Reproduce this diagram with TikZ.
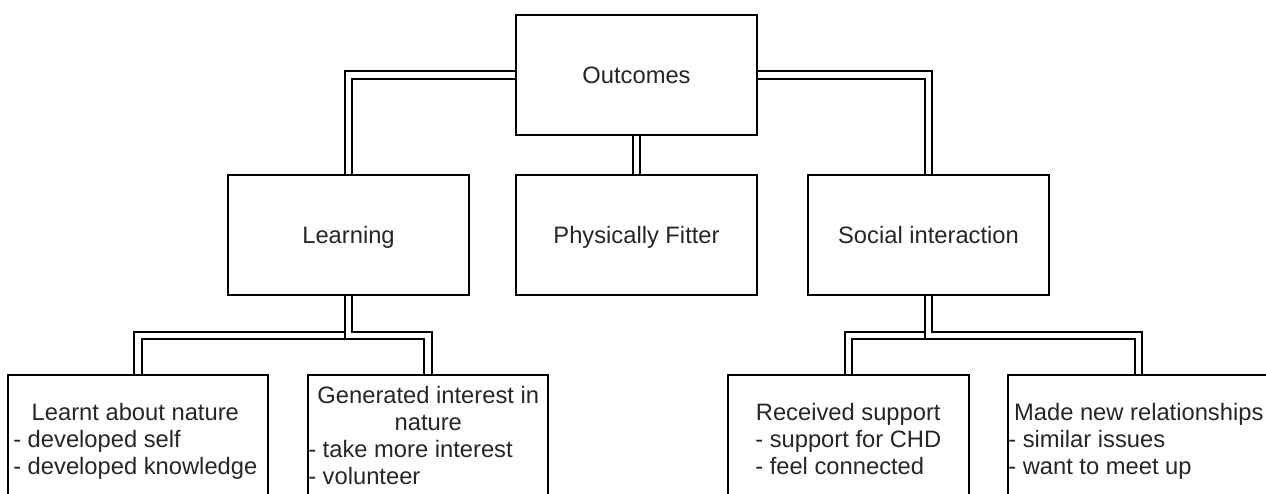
\documentclass[tikz,border=0pt]{standalone}
\usepackage{fontspec}
\setmainfont{Liberation Sans}
\pgfdeclarelayer{bg}
\pgfsetlayers{bg,main}
\begin{document}
\begin{tikzpicture}[x=0.75pt,y=-0.75pt,
  box/.style={draw=black,line width=1.2pt,fill=white,inner sep=0pt,
    minimum width=180.75pt,minimum height=90pt,
    font=\fontsize{17.8}{20.25}\selectfont,text=black!85,
    text height=12.7pt,text depth=0pt},
  dbl/.style={draw=black,line width=1.2pt,double=white,double distance=4.4pt},
  txt/.style={inner sep=0pt,font=\fontsize{17.8}{20.25}\selectfont,
    text=black!85,anchor=base west}]
\useasboundingbox (0,0) rectangle (1266,493);

% top and middle row
\node[box] (out) at (636.5,75) {Outcomes};
\node[box] (learn) at (348.5,235) {Learning};
\node[box] (phys) at (636.5,235) {Physically Fitter};
\node[box] (soc) at (928.5,235) {Social interaction};

% bottom row
\node[box,minimum width=195pt,minimum height=93.75pt] (b1) at (138,437.5) {};
\node[box,minimum width=180pt,minimum height=93.75pt] (b2) at (428,437.5) {};
\node[box,minimum width=180.75pt,minimum height=93.75pt] (b3) at (848.5,437.5) {};
\node[box,minimum width=195.75pt,minimum height=93.75pt] (b4) at (1138.5,437.5) {};

\node[txt] (t1) at (13,420) {\begin{tabular}[t]{@{}l@{}}\multicolumn{1}{@{}c@{}}{Learnt about nature}\\- developed self\\- developed knowledge\end{tabular}};
\node[txt] (t2) at (308,403) {\begin{tabular}[t]{@{}l@{}}\makebox[180pt]{Generated interest in}\\\makebox[180pt]{nature}\\- take more interest\\- volunteer\end{tabular}};
\node[txt] (t3) at (755,420) {\begin{tabular}[t]{@{}l@{}}\multicolumn{1}{@{}c@{}}{Received support}\\- support for CHD\\- feel connected\end{tabular}};
\node[txt] (t4) at (1008,420) {\begin{tabular}[t]{@{}l@{}}\makebox[195.75pt]{Made new relationships}\\- similar issues\\- want to meet up\end{tabular}};

\coordinate (lj) at (348.5,335.5);
\coordinate (sj) at (928.5,335.5);

\begin{pgfonlayer}{bg}
\fill[white] (0,0) rectangle (1266,493);
\draw[dbl] (out.west) -| (learn.north);
\draw[dbl] (out.east) -| (soc.north);
\draw[dbl] (out.south) -- (phys.north);
\draw[dbl] (learn.south) -- (lj) -| (b1.north);
\draw[dbl] (learn.south) -- (lj) -| (b2.north);
\draw[dbl] (soc.south) -- (sj) -| (b3.north);
\draw[dbl] (soc.south) -- (sj) -| (b4.north);
\end{pgfonlayer}
\end{tikzpicture}
\end{document}
